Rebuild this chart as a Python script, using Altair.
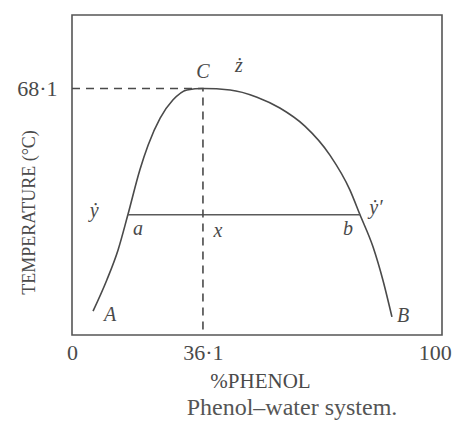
import altair as alt
import pandas as pd

# Miscibility curve of the phenol-water system (wt % phenol vs temperature)
curve_pct = [5.8, 9.6, 12.7, 15.4, 18.7, 21.0, 24.3, 27.8, 31.7, 36.1,
             43.6, 51.0, 57.3, 64.2, 71.1, 76.6, 79.4, 83.0, 85.7, 88.2]
curve_temp = [6.6, 15.2, 23.5, 33.2, 45.6, 52.5, 59.9, 64.9, 67.7, 68.1,
              67.7, 65.7, 62.7, 57.7, 49.7, 40.1, 33.2, 24.3, 15.2, 5.0]

# Upper consolute point C
critical_pct = 36.1
critical_temp = 68.1

# Tie line a-b at one temperature
tie_temp = 33.2
tie_a = 15.4
tie_b = 79.4

# Point labels on the diagram
label_text = ["C", "\u017c", "\u1e8f", "a", "x", "b", "\u1e8f\u2032", "A", "B"]
label_pct = [36.1, 46.0, 6.1, 18.2, 40.2, 76.1, 83.8, 10.5, 91.3]
label_temp = [72.6, 74.3, 34.3, 29.3, 28.8, 29.3, 35.1, 5.5, 5.2]

x_ticks = [0, 36.1, 100]
y_ticks = [68.1]

INK = "#4a4a4a"
SERIF = "Liberation Serif, DejaVu Serif, serif"

curve_df = pd.DataFrame({"pct": curve_pct, "temp": curve_temp})
tie_df = pd.DataFrame({"pct": [tie_a, tie_b], "temp": [tie_temp, tie_temp]})
guide_df = pd.DataFrame({
    "pct": [0, critical_pct, critical_pct],
    "temp": [critical_temp, critical_temp, 0],
})
label_df = pd.DataFrame({"text": label_text, "pct": label_pct, "temp": label_temp})

x_scale = alt.Scale(domain=[0, 102], nice=False, zero=False)
y_scale = alt.Scale(domain=[0, 88.4], nice=False, zero=False)

x_enc = alt.X(
    "pct:Q", scale=x_scale,
    axis=alt.Axis(
        title="%PHENOL", values=x_ticks, format=".1~f",
        labelExpr="replace(datum.label, '.', '\u00b7')",
        domain=False, ticks=False, grid=False,
        labelFont=SERIF, labelFontSize=22, labelColor=INK, labelPadding=7,
        labelFlush=False, labelOverlap=False,
        titleFont=SERIF, titleFontSize=21, titleFontWeight="normal",
        titleColor=INK, titleBaseline="middle", titleX=188, titleY=46,
    ),
)
y_enc = alt.Y(
    "temp:Q", scale=y_scale,
    axis=alt.Axis(
        title="TEMPERATURE (\u00b0C)", values=y_ticks, format=".1f",
        labelExpr="replace(datum.label, '.', '\u00b7')",
        domain=False, ticks=False, grid=False,
        labelFont=SERIF, labelFontSize=22, labelColor=INK, labelPadding=15,
        labelFlush=False,
        titleFont=SERIF, titleFontSize=18, titleFontWeight="normal",
        titleColor=INK, titleBaseline="middle", titleX=-43, titleY=197,
        titleAngle=-90,
    ),
)

curve = alt.Chart(curve_df).mark_line(
    interpolate="monotone", color=INK, strokeWidth=1.6
).encode(x=x_enc, y=y_enc)

tie = alt.Chart(tie_df).mark_line(color="#5a5a5a", strokeWidth=1.5).encode(
    x="pct:Q", y="temp:Q"
)

guide = alt.Chart(guide_df).mark_line(
    color=INK, strokeWidth=1.6, strokeDash=[8, 6]
).encode(x="pct:Q", y="temp:Q", order=alt.Order("temp:Q", sort="descending"))

labels = alt.Chart(label_df).mark_text(
    font=SERIF, fontStyle="italic", fontSize=20, color=INK
).encode(x="pct:Q", y="temp:Q", text="text:N")

caption = alt.Chart(pd.DataFrame({"t": ["Phenol\u2013water system."]})).mark_text(
    font=SERIF, fontSize=24, color="#555555", align="center", baseline="middle"
).encode(x=alt.value(220), y=alt.value(393), text="t:N")

chart = alt.layer(curve, tie, guide, labels, caption).properties(
    width=370,
    height=320,
    autosize=alt.AutoSizeParams(type="none"),
    padding={"left": 72, "top": 15, "right": 15, "bottom": 89},
    background="white",
).configure_view(stroke="#555555", strokeWidth=1.6)

chart.save("out.html", embed_options={"renderer": "svg", "actions": False})
